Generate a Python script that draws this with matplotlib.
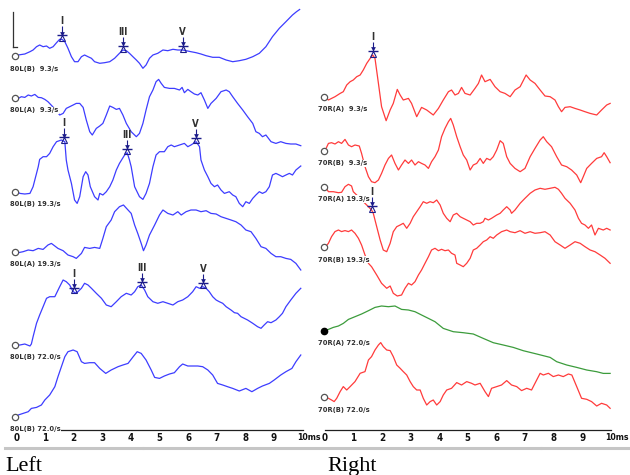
import numpy as np
import matplotlib
matplotlib.use("Agg")
import matplotlib.pyplot as plt
from matplotlib.lines import Line2D
from matplotlib import font_manager as fm

# ---------------- data (time in ms, amplitude in arbitrary units, up = positive) -------------
L1 = [(0,0),(0.06,1),(0.29,2),(0.47,4.3),(0.58,6),(0.70,9.3),(0.81,11),(0.93,9.3),(1.05,10),(1.16,7.7),
      (1.28,9.3),(1.40,13.3),(1.51,16.7),(1.59,16.7),(1.69,14.3),(1.80,7.7),(1.92,-0.7),(2.03,-5.7),(2.15,-5.7),
      (2.27,-0.7),(2.38,1),(2.50,-0.7),(2.62,-2.3),(2.73,-5.7),(2.91,-7.3),(3.08,-6.7),(3.26,-5.7),(3.43,-2.3),
      (3.60,2.7),(3.72,6),(3.84,5.3),(3.95,2.7),(4.07,-0.7),(4.19,-4),(4.30,-7.3),(4.42,-12.3),(4.53,-9),
      (4.65,-2.3),(4.77,1),(4.94,2.7),(5.12,6),(5.29,5.3),(5.47,6.7),(5.64,6),(5.81,6),(5.93,5.3),(6.10,4.3),
      (6.28,3.3),(6.45,2),(6.63,0.3),(6.86,-1.3),(7.09,-1.3),(7.33,-4),(7.56,-5.7),(7.79,-4.7),(8.02,-3.3),
      (8.26,-0.7),(8.49,2.7),(8.72,9.3),(8.95,19.3),(9.19,27.7),(9.42,34.3),(9.65,41),(9.79,44.3),(9.90,46.5)]
L2 = [(0,0),(0.06,-0.7),(0.17,1),(0.29,0.3),(0.41,2.7),(0.52,1.7),(0.64,3.3),(0.76,0.3),(0.87,0),(0.99,-1.7),
      (1.10,-4),(1.30,-10),(1.51,-17.3),(1.63,-15.7),(1.74,-10.7),(1.86,-9),(1.98,-7.3),(2.09,-5.7),(2.21,-5.7),
      (2.33,-9.7),(2.44,-22.3),(2.56,-34),(2.65,-37.3),(2.79,-30.7),(2.91,-28.3),(3.02,-25.7),(3.14,-17.3),
      (3.26,-8.3),(3.37,-9.7),(3.49,-11.7),(3.60,-10.7),(3.72,-17.3),(3.84,-25.7),(4.01,-34),(4.19,-39),
      (4.30,-35.7),(4.42,-25.7),(4.53,-12.3),(4.65,1),(4.77,7.7),(4.88,16),(4.97,18.3),(5.06,14.3),(5.17,10.3),
      (5.35,9.3),(5.52,9.3),(5.70,7.7),(5.79,10.3),(5.87,5),(5.99,8.3),(6.10,6),(6.22,3.7),(6.34,2.7),(6.45,5),
      (6.57,-2.3),(6.69,-10.7),(6.80,-5.7),(6.98,-0.7),(7.15,6),(7.33,7.7),(7.44,6),(7.56,1),(7.73,-5.7),
      (7.91,-12.3),(8.08,-19),(8.26,-25.7),(8.37,-34),(8.49,-35.7),(8.60,-39),(8.72,-37.3),(8.90,-44),
      (9.07,-45.7),(9.24,-44),(9.42,-45.7),(9.59,-46.3),(9.77,-46.3),(9.94,-48)]
L3 = [(0,0),(0.12,-1.7),(0.29,-2.3),(0.47,-1.7),(0.58,5),(0.64,11.7),(0.70,18.3),(0.76,25),(0.81,32.3),
      (0.93,35),(1.05,35),(1.16,38.3),(1.28,45),(1.40,50),(1.57,51.7),(1.69,50),(1.74,31.7),(1.80,21.7),
      (1.92,8.3),(2.03,-8.3),(2.12,-11.7),(2.21,-5),(2.33,15),(2.42,20),(2.50,16.7),(2.58,5),(2.73,-5),
      (2.85,-8.3),(2.91,-1.7),(3.02,-3.3),(3.14,0),(3.26,5),(3.37,11.7),(3.49,21.7),(3.60,28.3),(3.78,36.7),
      (3.87,39),(3.95,31.7),(4.01,25),(4.13,5),(4.30,-5),(4.42,-7.7),(4.53,-1.7),(4.65,8.3),(4.77,25),
      (4.88,36.7),(5.00,40),(5.17,40),(5.29,45),(5.41,46.7),(5.52,45),(5.70,46.7),(5.87,48.3),(5.99,45),
      (6.10,46.7),(6.28,50),(6.40,45),(6.45,31.7),(6.57,21.7),(6.69,15),(6.80,8.3),(6.92,5),(7.03,6.7),
      (7.15,1.7),(7.27,-1.7),(7.44,0),(7.56,-3.3),(7.67,-5),(7.79,-11.7),(7.91,-15),(8.02,-10),(8.14,-11.7),
      (8.26,-6.7),(8.37,-3.3),(8.49,0),(8.60,-1.7),(8.72,0),(8.84,5),(8.95,16.7),(9.07,18.3),(9.19,16.7),
      (9.30,15),(9.42,16.7),(9.54,18.3),(9.65,16.7),(9.77,21.7),(9.94,25.7)]
L4 = [(0,0),(0.06,-1),(0.23,0),(0.41,1.7),(0.58,1),(0.76,3.3),(0.93,2.3),(1.10,6.7),(1.22,8.3),(1.34,5.7),
      (1.45,3.3),(1.63,1),(1.80,-3.3),(1.98,-5),(2.09,-6.7),(2.27,-1.7),(2.38,4.3),(2.56,3.3),(2.73,4.3),
      (2.91,3.3),(3.02,13.3),(3.14,25),(3.31,31.7),(3.43,40),(3.60,45),(3.74,46.7),(3.90,41.7),(4.01,38.3),
      (4.13,26.7),(4.24,18.3),(4.36,8.3),(4.44,1),(4.53,6.7),(4.65,16.7),(4.83,26.7),(5.00,36.7),(5.12,41.7),
      (5.29,38.3),(5.47,36.7),(5.64,40),(5.76,36.7),(5.93,40),(6.10,41.7),(6.28,41.7),(6.45,40),(6.63,41),
      (6.80,38.3),(6.98,37.7),(7.15,35),(7.33,33.3),(7.50,31.7),(7.67,30),(7.85,26.7),(8.02,21.7),(8.20,20),
      (8.37,13.3),(8.55,5),(8.72,3.3),(8.90,-1.7),(9.07,-5),(9.24,-5),(9.42,-6.7),(9.59,-7.7),(9.77,-11.7),
      (9.94,-18.3)]
L5 = [(0,0),(0.12,0),(0.29,1),(0.47,-1),(0.52,1),(0.58,8.3),(0.64,15),(0.70,21.7),(0.81,30),(0.93,38.3),
      (1.05,46.7),(1.16,48.3),(1.34,48.3),(1.51,58.3),(1.63,65),(1.74,63.3),(1.86,60),(1.98,53.3),(2.09,51.7),
      (2.27,56.7),(2.38,61.7),(2.50,60),(2.62,56.7),(2.79,51.7),(2.97,46.7),(3.14,40),(3.31,38.3),(3.49,43.3),
      (3.66,48.3),(3.84,51.7),(4.01,50),(4.13,53.3),(4.24,58.3),(4.36,60),(4.48,55),(4.59,48.3),(4.77,43.3),
      (4.94,41.7),(5.12,43.3),(5.29,41.7),(5.47,40),(5.64,43.3),(5.81,45),(5.99,48.3),(6.16,53.3),(6.28,58.3),
      (6.40,56.7),(6.51,58.3),(6.63,56.7),(6.74,53.3),(6.86,48.3),(6.98,45),(7.09,43.3),(7.21,41.7),(7.33,38.3),
      (7.50,35),(7.62,32.3),(7.73,31.7),(7.85,28.3),(8.08,25),(8.26,21.7),(8.43,18.3),(8.55,16.7),(8.66,20),
      (8.78,23.3),(8.90,22.3),(9.07,25),(9.19,28.3),(9.30,31.7),(9.42,38.3),(9.59,45),(9.77,51.7),(9.94,56.7)]
L6 = [(0,0),(0.06,1.7),(0.23,3.3),(0.41,5),(0.52,8.3),(0.70,9.3),(0.87,11.7),(0.99,16.7),(1.16,21.7),
      (1.34,30),(1.45,40),(1.57,50),(1.69,60),(1.80,65),(1.98,66.7),(2.12,65),(2.27,55),(2.38,53.3),(2.56,54),
      (2.73,54),(2.91,48.3),(3.12,43.3),(3.31,46.7),(3.55,50),(3.72,51.7),(3.90,53.3),(4.08,60),(4.22,65),
      (4.36,63.3),(4.53,56.7),(4.71,46.7),(4.83,39.3),(5.00,38.3),(5.17,40.7),(5.35,42.7),(5.52,44),(5.70,50),
      (5.81,52.7),(5.99,50.7),(6.16,50.7),(6.34,50.7),(6.51,50),(6.69,46.7),(6.86,41.7),(7.03,33.3),(7.21,31.7),
      (7.38,30),(7.56,28.3),(7.79,25.7),(8.02,28.3),(8.23,25),(8.43,28.3),(8.60,30.7),(8.84,33.3),(9.01,36.7),
      (9.24,41.7),(9.42,45),(9.63,48.3),(9.77,55),(9.94,61.7)]

R1 = [(0,0),(0.12,-3.3),(0.23,-1.7),(0.35,0),(0.53,3.3),(0.64,5),(0.76,11.7),(0.88,15),(0.99,16.7),(1.11,20),
      (1.23,21.7),(1.34,26.7),(1.46,33.3),(1.58,38.3),(1.67,41.7),(1.75,38.3),(1.87,13.3),(1.98,-10),(2.14,-24),
      (2.28,-13.3),(2.39,-6.7),(2.53,7.3),(2.63,1.7),(2.74,-3.3),(2.92,-1.7),(3.03,-6.7),(3.21,-20),(3.38,-10.7),
      (3.56,-13.3),(3.79,-18.3),(3.97,-11.7),(4.14,-3.3),(4.32,5),(4.43,6.7),(4.55,1.7),(4.67,3.3),(4.78,9.3),
      (4.90,3.3),(5.08,1.7),(5.25,8.3),(5.37,13.3),(5.48,21.7),(5.60,15),(5.78,17.3),(5.95,10),(6.13,5),
      (6.30,3.3),(6.48,0),(6.65,6.7),(6.83,10),(7.04,21.7),(7.18,16.7),(7.35,13.3),(7.53,6.7),(7.70,0.7),
      (7.88,0),(8.05,-3.3),(8.17,-10),(8.28,-15),(8.40,-10.7),(8.58,-10),(8.75,-11.7),(8.93,-13.3),(9.10,-15),
      (9.28,-16.7),(9.51,-18.3),(9.68,-13.3),(9.86,-8.3),(9.98,-6.7)]
R2 = [(0,0),(0.12,7.3),(0.23,8),(0.35,6.7),(0.47,9),(0.58,7.3),(0.70,11.3),(0.82,5.7),(0.93,4),(1.05,5.7),
      (1.20,4.7),(1.28,-2.7),(1.40,-16),(1.52,-26),(1.63,-31),(1.75,-32),(1.87,-29.3),(1.98,-22.7),(2.10,-14.3),
      (2.22,-7.7),(2.33,-4.3),(2.45,-12.7),(2.57,-19.3),(2.68,-14.3),(2.80,-9.3),(2.92,-12.7),(3.03,-9.3),
      (3.15,-14.3),(3.27,-11),(3.38,-12.7),(3.50,-14.3),(3.62,-17.7),(3.73,-11),(3.85,-6),(3.97,0.7),(4.08,14),
      (4.20,22.3),(4.32,29),(4.40,32.3),(4.49,25.7),(4.61,14),(4.73,4),(4.84,-4.3),(4.96,-9.3),(5.08,-19.3),
      (5.19,-14.3),(5.31,-12.7),(5.43,-7.7),(5.54,-12.7),(5.66,-7.7),(5.78,-9.3),(5.89,-6),(6.01,0.7),(6.13,10),
      (6.24,7.3),(6.36,-6),(6.48,-12.7),(6.65,-17.7),(6.83,-21),(7.00,-17.7),(7.18,-6),(7.35,2.3),(7.53,10.7),
      (7.64,14),(7.76,9),(7.93,4),(8.11,-6),(8.28,-14.3),(8.46,-16),(8.63,-19.3),(8.81,-24.3),(8.95,-32),
      (9.04,-26),(9.16,-17.7),(9.33,-12.7),(9.51,-7.7),(9.68,-6),(9.77,-2),(9.86,-6),(9.98,-12)]
R3 = [(0,0),(0.12,-5.2),(0.29,-5.2),(0.47,-6.2),(0.58,-5.8),(0.70,-0.2),(0.82,2.2),(0.93,0.5),(0.99,-5.2),
      (1.17,-10.2),(1.34,-15.2),(1.52,-20.2),(1.63,-23.5),(1.69,-26.8),(1.81,-40.2),(1.93,-53.5),(2.04,-63.5),
      (2.16,-65.2),(2.28,-56.8),(2.39,-45.2),(2.51,-40.2),(2.63,-38.5),(2.74,-36.8),(2.86,-41.8),(2.98,-36.8),
      (3.09,-30.2),(3.21,-25.2),(3.33,-20.2),(3.44,-15.2),(3.56,-16.8),(3.68,-15.2),(3.79,-16.2),(3.91,-13.5),
      (4.03,-18.5),(4.14,-26.8),(4.26,-31.8),(4.38,-35.2),(4.49,-28.5),(4.61,-26.8),(4.73,-30.2),(4.84,-31.8),
      (4.96,-33.5),(5.08,-35.2),(5.19,-38.5),(5.31,-36.8),(5.43,-36.8),(5.54,-35.2),(5.60,-31.8),(5.72,-33.5),
      (5.83,-31.8),(6.01,-28.5),(6.13,-26.8),(6.24,-23.5),(6.36,-20.2),(6.48,-23.5),(6.53,-26.8),(6.65,-23.5),
      (6.83,-16.8),(7.00,-11.8),(7.18,-6.8),(7.35,-3.5),(7.53,-1.8),(7.70,-2.8),(7.88,-1.8),(8.05,-0.8),
      (8.17,-2.8),(8.28,-6.8),(8.40,-11.8),(8.58,-16.8),(8.75,-23.5),(8.87,-31.8),(8.98,-36.8),(9.10,-38.5),
      (9.22,-41.8),(9.33,-38.5),(9.45,-48.5),(9.57,-41.8),(9.74,-43.5),(9.86,-41.8),(9.98,-43.5)]
R4 = [(0,0),(0.12,4),(0.23,10.7),(0.35,15.7),(0.47,17.3),(0.58,15.7),(0.70,16.7),(0.82,15.7),(0.93,17.3),
      (1.05,14),(1.17,9),(1.28,2.3),(1.40,-7.7),(1.52,-16),(1.63,-19.4),(1.81,-27.7),(1.98,-36),(2.16,-41),
      (2.28,-38.7),(2.39,-46),(2.53,-48.7),(2.68,-47.7),(2.80,-41),(2.92,-36),(3.03,-37.7),(3.15,-34.4),
      (3.27,-27.7),(3.38,-22.7),(3.50,-16),(3.62,-9.4),(3.73,-2.7),(3.85,-1),(3.97,-3.4),(4.08,-2),(4.20,-3.4),
      (4.32,-2.7),(4.43,-6),(4.55,-7.7),(4.61,-16),(4.73,-17.7),(4.84,-19.4),(4.96,-16),(5.08,-11),(5.19,-2.7),
      (5.31,-1),(5.43,2.3),(5.54,5.6),(5.66,7.3),(5.78,10.6),(5.89,9),(6.01,12.3),(6.18,15.6),(6.36,17.3),
      (6.48,15.6),(6.65,14.6),(6.83,16.6),(7.00,14),(7.18,15.6),(7.35,14),(7.53,14.6),(7.70,15.6),(7.88,12.3),
      (8.05,5.6),(8.23,2.3),(8.40,-1),(8.58,2.3),(8.75,5.6),(8.93,4),(9.10,0.6),(9.28,-2.7),(9.45,-4.4),
      (9.63,-7.7),(9.80,-11),(9.98,-16)]
R5 = [(0,0),(0.12,1.3),(0.29,3.3),(0.47,4.7),(0.64,7.3),(0.82,11.3),(1.05,14),(1.28,16.7),(1.52,20),(1.75,23.3),
      (1.98,24.7),(2.22,24),(2.45,24.7),(2.68,21.3),(2.92,20.7),(3.15,19),(3.38,15.7),(3.62,12.3),(3.85,9),
      (4.14,2.3),(4.49,-1),(4.84,-2),(5.19,-3.3),(5.54,-7.7),(5.89,-12),(6.24,-14.3),(6.59,-16.7),(6.94,-20),
      (7.41,-23.3),(7.88,-26.7),(8.11,-31),(8.46,-34.3),(8.81,-36.7),(9.16,-39.3),(9.51,-41),(9.74,-42.7),
      (9.98,-42.7)]
R6 = [(0,0),(0.12,-1),(0.23,-2.7),(0.32,-4.3),(0.41,-1),(0.53,5.7),(0.64,10.7),(0.76,7.3),(0.88,10.7),
      (1.05,15.7),(1.23,24),(1.40,25.7),(1.52,37.3),(1.63,40.7),(1.75,47.3),(1.87,52.3),(1.95,54.7),(2.04,50.7),
      (2.16,47.3),(2.28,46.7),(2.39,40.7),(2.51,32.3),(2.63,29),(2.74,25.7),(2.86,22.3),(2.98,15.7),(3.09,10.7),
      (3.21,7.3),(3.33,7.3),(3.44,-1),(3.56,-7.7),(3.68,-4.3),(3.79,-2.7),(3.91,-7.7),(4.03,-4.3),(4.14,2.3),
      (4.26,7.3),(4.43,9),(4.61,14.7),(4.78,12.3),(4.96,15.7),(5.13,14),(5.25,12.3),(5.43,14),(5.60,5.7),
      (5.72,0.7),(5.83,9),(6.01,10.7),(6.18,12.3),(6.36,16.7),(6.53,12.3),(6.71,10.7),(6.88,6.7),(7.06,9),
      (7.23,7.3),(7.35,14),(7.53,24),(7.64,22.3),(7.82,24),(7.99,20.7),(8.17,22.3),(8.34,20.7),(8.52,23.3),
      (8.64,22.3),(8.81,10.7),(8.98,-1),(9.16,-2),(9.33,-4.3),(9.51,-8.7),(9.68,-6),(9.86,-7.7),(9.98,-11)]

left_labels = ["80L(B)  9.3/s", "80L(A)  9.3/s", "80L(B) 19.3/s", "80L(A) 19.3/s", "80L(B) 72.0/s", "80L(B) 72.0/s"]
right_labels = ["70R(A)  9.3/s", "70R(B)  9.3/s", "70R(A) 19.3/s", "70R(B) 19.3/s", "70R(A) 72.0/s", "70R(B) 72.0/s"]
tick_values = list(range(0, 11))
tick_labels = ["0", "1", "2", "3", "4", "5", "6", "7", "8", "9", ""]
end_label = "10ms"
panel_titles = ["Left", "Right"]

# wave markers: (trace index, latency ms, name)
left_peaks = [(0, 1.59, "I"), (0, 3.73, "III"), (0, 5.81, "V"),
              (2, 1.67, "I"), (2, 3.87, "III"), (2, 6.27, "V"),
              (4, 2.00, "I"), (4, 4.38, "III"), (4, 6.52, "V")]
right_peaks = [(0, 1.67, "I"), (2, 1.63, "I")]

# ---------------- layout / style -------------
W, H = 630, 475
DPI = 100
left_base = [56, 97.7, 191.7, 251.7, 345, 416.7]
right_base = [96.7, 150.7, 186.5, 247.3, 330.7, 397.3]
BLUE = "#3d3dff"
RED = "#ff3b3b"
GREEN = "#3c9c3c"
NAVY = "#1c1c8a"
TXT = "#303030"

# find a narrow/condensed bold face if one is installed
narrow_path = None
_paths = [f.fname for f in fm.fontManager.ttflist]
for key in ["LiberationSansNarrow-Bold.", "DejaVuSansCondensed-Bold.", "LiberationSansNarrow-Regular.",
            "DejaVuSansCondensed."]:
    hits = [p for p in _paths if key in p.replace(" ", "")]
    if hits:
        narrow_path = hits[0]
        break


def nfont(size):
    if narrow_path is not None:
        return fm.FontProperties(fname=narrow_path, size=size)
    return fm.FontProperties(family="DejaVu Sans", weight="bold", size=size * 0.82)


NARROW_IS_DEJAVU = narrow_path is not None and "DejaVu" in narrow_path
lab_size = 5.4 if NARROW_IS_DEJAVU else 6.2
tick_size = 7.0 if NARROW_IS_DEJAVU else 7.8

fig = plt.figure(figsize=(W / DPI, H / DPI), dpi=DPI)
fig.patch.set_facecolor("white")

axis_y_px = 430.0


def make_axes(x0_px, x1_px):
    ax = fig.add_axes([x0_px / W, (H - axis_y_px) / H, (x1_px - x0_px) / W, axis_y_px / H])
    ax.set_xlim(0, 10)
    ax.set_ylim(axis_y_px, 0)
    for s in ["top", "left", "right"]:
        ax.spines[s].set_visible(False)
    ax.spines["bottom"].set_linewidth(0.9)
    ax.spines["bottom"].set_color("#202020")
    ax.set_yticks([])
    ax.set_xticks(tick_values)
    ax.set_xticklabels(tick_labels)
    ax.tick_params(axis="x", length=0, pad=2.5, colors="#111111")
    for lab in ax.get_xticklabels():
        lab.set_fontproperties(nfont(tick_size))
    ax.set_xticks([0, 10], minor=True)
    ax.tick_params(axis="x", which="minor", direction="in", length=4, width=0.9, color="#202020")
    ax.text(9.82, axis_y_px + 2.6, end_label, ha="left", va="top", fontproperties=nfont(tick_size * 0.9),
            color="#111111", clip_on=False)
    ax.patch.set_alpha(0)
    return ax


def draw_panel(ax, traces, bases, colors, labels, peaks, filled):
    for i, (tr, b, c, lab) in enumerate(zip(traces, bases, colors, labels)):
        ts = np.array([p[0] for p in tr])
        amps = np.array([p[1] for p in tr])
        ax.plot(ts, b - amps, color=c, lw=0.9, clip_on=False, zorder=2)
        if i in filled:
            ax.plot([-0.05], [b], marker="o", ms=4.5, mfc="black", mec="black", mew=1, clip_on=False, zorder=4)
        else:
            ax.plot([-0.05], [b], marker="o", ms=4.5, mfc="white", mec="#555555", mew=0.9, clip_on=False, zorder=4)
        ax.text(-0.23, b + 12.5, lab, ha="left", va="center", fontproperties=nfont(lab_size),
                color=TXT, clip_on=False, zorder=5,
                bbox=dict(facecolor="white", edgecolor="none", pad=0.5))
    for (i, tm, name) in peaks:
        tr = traces[i]
        ts = np.array([p[0] for p in tr])
        amps = np.array([p[1] for p in tr])
        y = bases[i] - np.interp(tm, ts, amps)
        bar = y - 4
        ax.vlines(tm, bar - 9, bar - 2, color=NAVY, lw=0.8, zorder=6)
        ax.plot([tm], [bar - 1.6], marker="v", ms=3.4, color=NAVY, mew=0, zorder=6)
        ax.plot([tm], [bar], marker="_", ms=6.5, mew=1.0, color=NAVY, zorder=6)
        ax.plot([tm], [bar + 2.5], marker="^", ms=4.4, mfc="none", mec=NAVY, mew=0.8, zorder=6)
        ax.text(tm, bar - 14, name, ha="center", va="center", fontproperties=nfont(tick_size),
                color=TXT, zorder=6)


axL = make_axes(16.5, 302.5)
axR = make_axes(325.0, 610.7)

draw_panel(axL, [L1, L2, L3, L4, L5, L6], left_base, [BLUE] * 6, left_labels, left_peaks, filled=[])
draw_panel(axR, [R1, R2, R3, R4, R5, R6], right_base, [RED, RED, RED, RED, GREEN, RED], right_labels,
           right_peaks, filled=[4])

# amplitude scale bar (left panel)
axL.plot([-0.12, -0.12], [12, 47], color="#333333", lw=0.9, clip_on=False)
axL.plot([-0.12, 0.03], [47, 47], color="#333333", lw=0.9, clip_on=False)

# grey underline segments
for x0, x1 in [(5, 142), (144, 274), (276, 408), (410, 540), (542, 628)]:
    fig.add_artist(Line2D([x0 / W, x1 / W], [(H - 447.5) / H] * 2, color="#c6c6c6", lw=2.2,
                          transform=fig.transFigure))

fig.text(5 / W, (H - 471) / H, panel_titles[0], ha="left", va="baseline", fontsize=16,
         family=["Liberation Serif", "DejaVu Serif"], color="black")
fig.text(327 / W, (H - 471) / H, panel_titles[1], ha="left", va="baseline", fontsize=16,
         family=["Liberation Serif", "DejaVu Serif"], color="black")

fig.savefig("out.png", dpi=DPI, facecolor="white")
